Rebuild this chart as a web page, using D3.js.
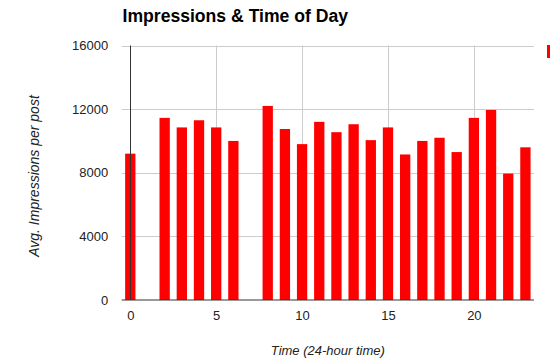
<!DOCTYPE html>
<html>
<head>
<meta charset="utf-8">
<script src="https://cdn.jsdelivr.net/npm/d3@7"></script>
<style>
  html, body { margin: 0; padding: 0; background: #fff; }
  svg { display: block; font-family: Arial, "Liberation Sans", sans-serif; }
</style>
</head>
<body>
<svg id="chart" width="550" height="363"></svg>
<script>
const hours = [0,1,2,3,4,5,6,7,8,9,10,11,12,13,14,15,16,17,18,19,20,21,22,23];
const impressions = [9200,0,11450,10850,11300,10850,10000,0,12200,10750,9800,11200,10550,11050,10050,10850,9150,10000,10200,9300,11450,11950,7950,9600];
const yTicks = [0,4000,8000,12000,16000];
const xTicks = [0,5,10,15,20];
const title = "Impressions & Time of Day";
const xTitle = "Time (24-hour time)";
const yTitle = "Avg. Impressions per post";

const svg = d3.select("#chart");
const m = {left: 121.7, right: 534, top: 45.5, bottom: 300};

const x = d3.scaleLinear().domain([-0.5, 23.5]).range([m.left, m.right]);
const y = d3.scaleLinear().domain([0, 16000]).range([m.bottom, m.top]);
const barW = (x(1) - x(0)) * 0.6;

// horizontal gridlines
svg.append("g").selectAll("line").data(yTicks.filter(d => d !== 0)).join("line")
  .attr("x1", m.left).attr("x2", m.right)
  .attr("y1", d => Math.round(y(d)) + 0.5).attr("y2", d => Math.round(y(d)) + 0.5)
  .attr("stroke", "#cccccc").attr("stroke-width", 1);

// vertical gridlines
svg.append("g").selectAll("line").data(xTicks.filter(d => d !== 0)).join("line")
  .attr("x1", d => Math.round(x(d)) + 0.5).attr("x2", d => Math.round(x(d)) + 0.5)
  .attr("y1", m.top).attr("y2", m.bottom)
  .attr("stroke", "#cccccc").attr("stroke-width", 1);

// bars
svg.append("g").selectAll("rect").data(hours).join("rect")
  .attr("x", (d) => x(d) - barW / 2)
  .attr("width", barW)
  .attr("y", (d, i) => y(impressions[i]))
  .attr("height", (d, i) => y(0) - y(impressions[i]))
  .attr("fill", "#ff0000");

// baselines
svg.append("line")
  .attr("x1", m.left).attr("x2", m.right)
  .attr("y1", y(0)).attr("y2", y(0))
  .attr("stroke", "#333333").attr("stroke-width", 1);
svg.append("line")
  .attr("x1", Math.round(x(0)) + 0.5).attr("x2", Math.round(x(0)) + 0.5)
  .attr("y1", m.top).attr("y2", m.bottom)
  .attr("stroke", "#333333").attr("stroke-width", 1);

// y axis labels
const yAxis = d3.axisLeft(y).tickValues(yTicks).tickSize(0).tickPadding(13.5).tickFormat(d3.format("d"));
const gy = svg.append("g").attr("transform", `translate(${m.left},0)`).call(yAxis);
gy.select(".domain").remove();
gy.selectAll("text").attr("font-size", 13).attr("fill", "#222").attr("font-family", "Arial, 'Liberation Sans', sans-serif");

// x axis labels
const xAxis = d3.axisBottom(x).tickValues(xTicks).tickSize(0).tickPadding(11).tickFormat(d3.format("d"));
const gx = svg.append("g").attr("transform", `translate(0,${m.bottom})`).call(xAxis);
gx.select(".domain").remove();
gx.selectAll("text").attr("font-size", 13).attr("fill", "#222").attr("font-family", "Arial, 'Liberation Sans', sans-serif");

// title
svg.append("text").attr("x", 122.5).attr("y", 22)
  .attr("font-size", 17.6).attr("font-weight", "bold").attr("fill", "#000")
  .text(title);

// x title
svg.append("text").attr("x", (m.left + m.right) / 2).attr("y", 355)
  .attr("text-anchor", "middle").attr("font-size", 13).attr("font-style", "italic").attr("fill", "#222")
  .text(xTitle);

// y title
svg.append("text").attr("transform", `translate(39,176) rotate(-90)`)
  .attr("text-anchor", "middle").attr("font-size", 14).attr("font-style", "italic").attr("fill", "#222")
  .text(yTitle);

// legend marker (cut off at right edge)
svg.append("rect").attr("x", 547).attr("y", 45).attr("width", 12).attr("height", 13).attr("fill", "#ff0000");
</script>
</body>
</html>
